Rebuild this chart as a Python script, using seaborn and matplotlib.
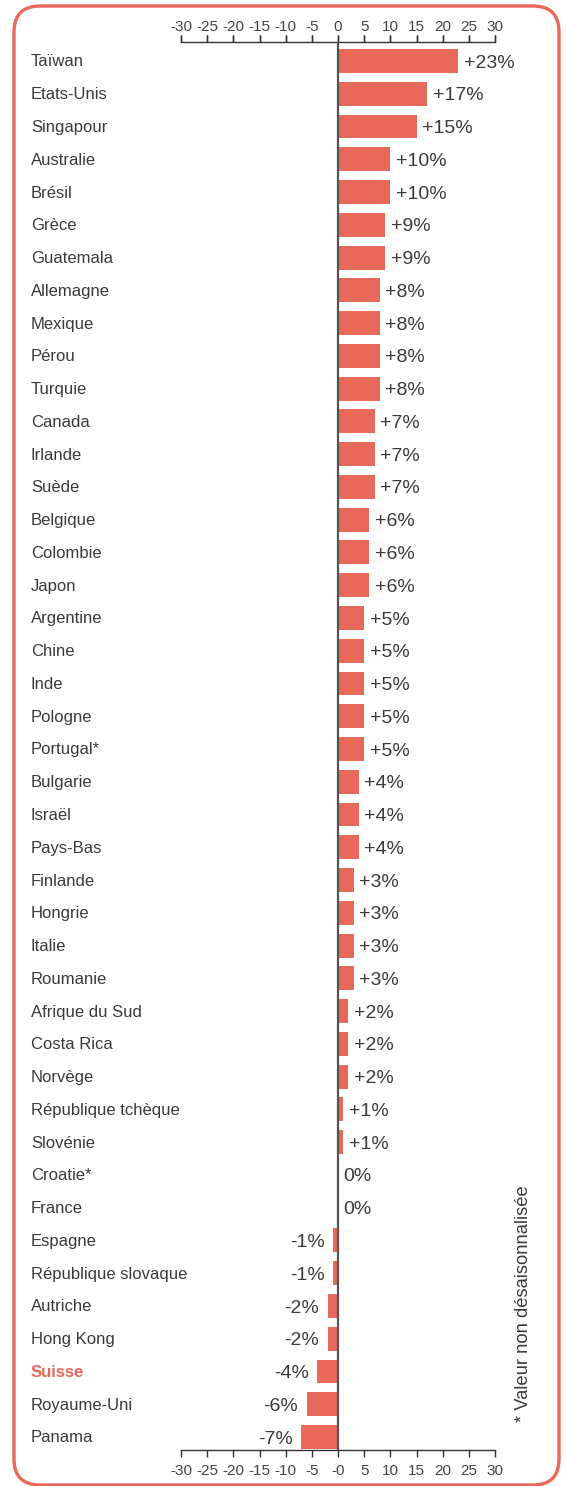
import matplotlib
matplotlib.use("Agg")
import matplotlib.pyplot as plt
import matplotlib.transforms as mtransforms
from matplotlib.patches import FancyBboxPatch
import seaborn as sns
import pandas as pd

countries = ["Taïwan", "Etats-Unis", "Singapour", "Australie", "Brésil", "Grèce",
             "Guatemala", "Allemagne", "Mexique", "Pérou", "Turquie", "Canada",
             "Irlande", "Suède", "Belgique", "Colombie", "Japon", "Argentine",
             "Chine", "Inde", "Pologne", "Portugal*", "Bulgarie", "Israël",
             "Pays-Bas", "Finlande", "Hongrie", "Italie", "Roumanie",
             "Afrique du Sud", "Costa Rica", "Norvège", "République tchèque",
             "Slovénie", "Croatie*", "France", "Espagne", "République slovaque",
             "Autriche", "Hong Kong", "Suisse", "Royaume-Uni", "Panama"]
values = [23, 17, 15, 10, 10, 9, 9, 8, 8, 8, 8, 7, 7, 7, 6, 6, 6, 5, 5, 5, 5, 5,
          4, 4, 4, 3, 3, 3, 3, 2, 2, 2, 1, 1, 0, 0, -1, -1, -2, -2, -4, -6, -7]
ticks = [-30, -25, -20, -15, -10, -5, 0, 5, 10, 15, 20, 25, 30]
bottom_tick_labels = ["-30", "-25", "-20", "-15", "-10", "-5", "-0", "5", "10", "15", "20", "25", "30"]
top_tick_labels = ["-30", "-25", "-20", "-15", "-10", "-5", "0", "5", "10", "15", "20", "25", "30"]
highlight = "Suisse"
footnote = "* Valeur non désaisonnalisée"

RED = "#E8695A"
TXT = "#3a3a3a"
W, H = 566, 1486

sns.set_style("white")
plt.rcParams["font.family"] = ["Liberation Sans", "DejaVu Sans"]

fig = plt.figure(figsize=(W / 100, H / 100), dpi=100)

# background frame axes (pixel coordinates)
bg = fig.add_axes([0, 0, 1, 1])
bg.set_xlim(0, W)
bg.set_ylim(H, 0)
bg.axis("off")
frame = FancyBboxPatch((14, 6), 545, 1479,
                       boxstyle="round,pad=0,rounding_size=26",
                       fill=False, edgecolor=RED, linewidth=2.4)
bg.add_patch(frame)
bg.text(523, 1304, footnote, rotation=90, ha="center", va="center",
        fontsize=13.2, color=TXT)

# main axes
x0, x1 = 181, 495
ytop, ybot = 42, 1450
ax = fig.add_axes([x0 / W, 1 - ybot / H, (x1 - x0) / W, (ybot - ytop) / H])
ax.patch.set_alpha(0)

df = pd.DataFrame({"country": countries, "value": values})
sns.barplot(data=df, x="value", y="country", orient="h", color=RED,
            saturation=1, width=0.73, ax=ax, edgecolor="none")

row0, step = 61, (1437 - 61) / 42
ax.set_ylim((ybot - row0) / step, (ytop - row0) / step)
ax.set_xlim(-30, 30)
ax.set_xticks(ticks)
ax.set_xticklabels(bottom_tick_labels)
ax.tick_params(axis="x", which="both", bottom=True, top=True, labelbottom=True,
               labeltop=False, length=5, width=1, color="#333333",
               labelsize=11, labelcolor="#444444", pad=5, direction="out")
ax.set_yticks([])
ax.set_ylabel("")
ax.set_xlabel("")
for s in ["left", "right"]:
    ax.spines[s].set_visible(False)
for s in ["top", "bottom"]:
    ax.spines[s].set_visible(True)
    ax.spines[s].set_color("#333333")
    ax.spines[s].set_linewidth(1)

secax = ax.secondary_xaxis("top")
secax.set_xticks(ticks)
secax.set_xticklabels(top_tick_labels)
secax.tick_params(length=5, width=1, color="#333333", labelsize=11,
                  labelcolor="#444444", pad=1)
secax.spines["top"].set_visible(False)

ax.axvline(0, color="#555555", lw=1.6, zorder=5)

# country labels
trans = mtransforms.blended_transform_factory(fig.transFigure, ax.transData)
for i, (c, v) in enumerate(zip(countries, values)):
    if c == highlight:
        ax.text(31 / W, i + 0.03, c, transform=trans, ha="left", va="center",
                fontsize=12, color=RED, fontweight="bold")
    else:
        ax.text(31 / W, i + 0.03, c, transform=trans, ha="left", va="center",
                fontsize=12, color=TXT)
    if v > 0:
        lab, ha, off = f"+{v}%", "left", 4
    elif v == 0:
        lab, ha, off = "0%", "left", 4
    else:
        lab, ha, off = f"{v}%", "right", -6
    ax.annotate(lab, (v, i), xytext=(off, -1.5), textcoords="offset points",
                ha=ha, va="center", fontsize=14, color=TXT)

fig.savefig("out.png", dpi=100)
